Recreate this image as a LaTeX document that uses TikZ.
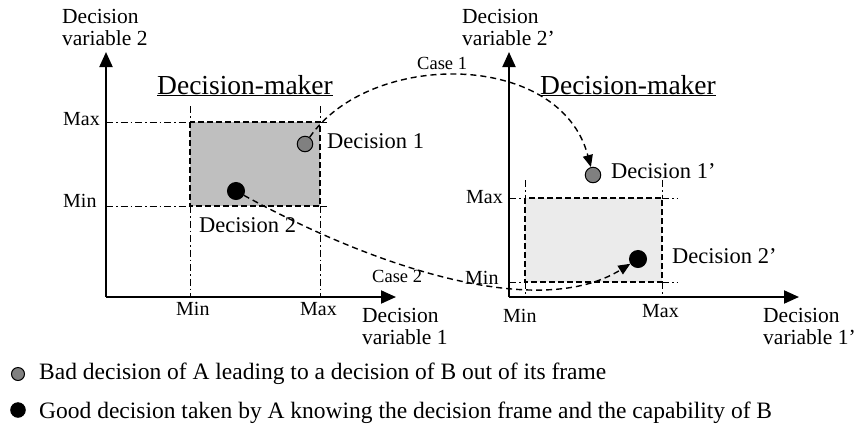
\documentclass[tikz,border=0pt]{standalone}
\usepackage{fontspec}
\setmainfont{Liberation Serif}
\usetikzlibrary{arrows.meta}
\newcommand{\dmaker}{\underline{Decision-maker}}

\begin{document}
\begin{tikzpicture}
  [x=1pt,y=-1pt,
   every node/.style={inner sep=0pt,font=\fontsize{20}{24}\selectfont},
   axis/.style={line width=2pt,-{Triangle[length=15pt,width=13pt]}},
   guide/.style={line width=1pt,dash pattern=on 7pt off 3pt on 1.5pt off 3pt},
   frame/.style={line width=1.5pt,dash pattern=on 6pt off 3pt},
   link/.style={line width=1.4pt,dash pattern=on 6pt off 4pt,-{Triangle[length=12pt,width=10pt]}},
   dot/.style={circle,draw,line width=1pt,minimum size=15.5pt},
   bad/.style={dot,fill=black!50},
   good/.style={dot,fill=black,minimum size=17pt},
   tick/.style={anchor=base west},
   lbl/.style={anchor=base west,font=\fontsize{22.5}{27}\selectfont},
   case/.style={anchor=base west,font=\fontsize{18.5}{20}\selectfont},
   title/.style={anchor=base west,font=\fontsize{27.5}{30}\selectfont},
   axislabel/.style={anchor=base west,align=left,font=\fontsize{21.5}{22}\selectfont},
   legend/.style={anchor=base west,font=\fontsize{23.5}{26}\selectfont}]
  \useasboundingbox (0,0) rectangle (854,424);

  % left decision-maker
  \fill[black!25] (190,122) rectangle (320,206);
  \draw[frame] (190,122) rectangle (320,206);
  \foreach \y in {122,206} {
    \draw[guide] (106,\y) -- (190,\y);
    \draw[guide] (320,\y) -- (328,\y);
  }
  \foreach \x in {190,320} {
    \draw[guide] (\x,106) -- (\x,122);
    \draw[guide] (\x,206) -- (\x,297);
  }
  \coordinate (o1) at (106,297);
  \coordinate (x1) at (396,297);
  \coordinate (y1) at (106,52);
  \draw[axis] (o1) -- (x1);
  \draw[axis] (o1) -- (y1);
  \node[axislabel] (v2) at (62,45) {Decision\\variable 2};
  \node[axislabel] (v1) at (362,344) {Decision\\variable 1};
  \node[tick] (max1) at (63,125) {Max};
  \node[tick] (min1) at (63,207) {Min};
  \node[tick] (mina) at (176,315) {Min};
  \node[tick] (maxa) at (300,315) {Max};
  \node[title] (dm1) at (157,94) {\dmaker};

  % right decision-maker
  \fill[black!8] (525,198) rectangle (662,282);
  \draw[frame] (525,198) rectangle (662,282);
  \foreach \y in {198,282} {
    \draw[guide] (509,\y) -- (525,\y);
    \draw[guide] (662,\y) -- (678,\y);
  }
  \foreach \x in {525,662} {
    \draw[guide] (\x,180) -- (\x,198);
    \draw[guide] (\x,282) -- (\x,297);
  }
  \coordinate (o2) at (509,297);
  \coordinate (x2) at (799,297);
  \coordinate (y2) at (509,52);
  \draw[axis] (o2) -- (x2);
  \draw[axis] (o2) -- (y2);
  \node[axislabel] (v2p) at (462,45) {Decision\\variable 2'};
  \node[axislabel] (v1p) at (763,344) {Decision\\variable 1'};
  \node[tick] (max2) at (466,203) {Max};
  \node[tick] (min2) at (465,284) {Min};
  \node[tick] (minb) at (503,322) {Min};
  \node[tick] (maxb) at (642,317) {Max};
  \node[title] (dm2) at (540,94) {\dmaker};

  % decisions
  \node[bad] (d1) at (305,144) {};
  \node[good] (d2) at (236,191) {};
  \node[bad] (d1p) at (593,175) {};
  \node[good] (d2p) at (638,259) {};
  \node[lbl] (l1) at (327,148) {Decision 1};
  \node[lbl] (l2) at (199,232) {Decision 2};
  \node[lbl] (l1p) at (611,178) {Decision 1'};
  \node[lbl] (l2p) at (672,263) {Decision 2'};

  \draw[link] (d1) .. controls (370,50) and (560,50) .. (d1p);
  \draw[link] (d2) .. controls (380,270) and (540,320) .. (d2p);
  \node[case] (c1) at (417,69) {Case 1};
  \node[case] (c2) at (372,282) {Case 2};

  % legend
  \node[bad,minimum size=13pt] (k1) at (18,374) {};
  \node[good,minimum size=14.5pt] (k2) at (18,410) {};
  \node[legend] (t1) at (39,379) {Bad decision of A leading to a decision of B out of its frame};
  \node[legend] (t2) at (39,418) {Good decision taken by A knowing the decision frame and the capability of B};
\end{tikzpicture}
\end{document}
